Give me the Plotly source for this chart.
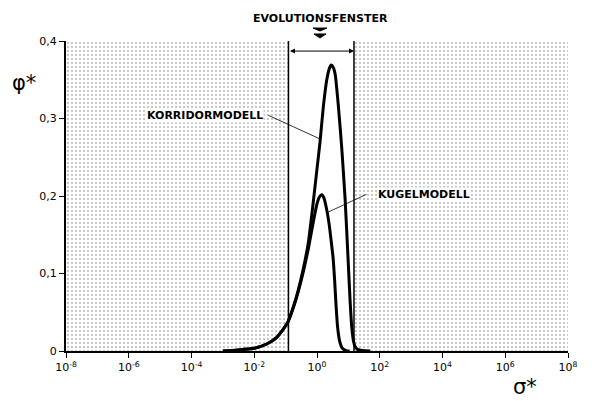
import math
import plotly.graph_objects as go

# ---- data ----
window = [0.123, 15.1]          # evolution window (sigma*)
x_range = [1e-8, 1e8]
y_max = 0.4

sigma_korr = [1e-3, 3e-3, 0.01, 0.025, 0.05, 0.08, 0.12, 0.18, 0.25, 0.37,
              0.53, 0.75, 1.0, 1.25, 1.6, 2.05, 2.5, 2.85, 3.3, 3.8, 4.8, 6.2,
              7.9, 9.8, 11.3, 12.8, 14.5, 16.3, 19, 24, 35, 50]
phi_korr = [0.0, 0.0013, 0.0035, 0.009, 0.017, 0.027, 0.038, 0.058,
            0.078, 0.107, 0.14, 0.19, 0.235, 0.27, 0.316, 0.35, 0.365, 0.369,
            0.366, 0.357, 0.316, 0.26, 0.195, 0.118, 0.066, 0.031, 0.013,
            0.006, 0.0025, 0.001, 0.0003, 0.0]

sigma_kugel = [1e-3, 3e-3, 0.01, 0.025, 0.05, 0.08, 0.12, 0.18, 0.25, 0.37,
               0.53, 0.75, 1.0, 1.2, 1.42, 1.68, 2.05, 2.43, 2.81, 3.26, 3.64,
               4.06, 4.53, 5.25, 6.3, 8.45, 11]
phi_kugel = [0.0, 0.0013, 0.0035, 0.009, 0.017, 0.027, 0.038, 0.057,
             0.076, 0.103, 0.132, 0.165, 0.19, 0.199, 0.2015, 0.197, 0.182,
             0.164, 0.143, 0.120, 0.092, 0.058, 0.031, 0.013, 0.004, 0.0006,
             0.0]

x_tickvals = [1e-8, 1e-6, 1e-4, 1e-2, 1e0, 1e2, 1e4, 1e6, 1e8]
x_ticktext = ["10<sup>-8</sup>", "10<sup>-6</sup>", "10<sup>-4</sup>", "10<sup>-2</sup>",
              "10<sup>0</sup>", "10<sup>2</sup>", "10<sup>4</sup>", "10<sup>6</sup>",
              "10<sup>8</sup>"]
y_tickvals = [0, 0.1, 0.2, 0.3, 0.4]
y_ticktext = ["0", "0,1", "0,2", "0,3", "0,4"]

FONT = "DejaVu Sans"
pattern = dict(shape=".", fgcolor="black", bgcolor="white", size=4, solidity=0.13)

fig = go.Figure()

# shaded regions outside the window
for xa, xb in [(x_range[0], window[0]), (window[1], x_range[1])]:
    fig.add_trace(go.Scatter(x=[xa, xb, xb, xa, xa], y=[0, 0, y_max, y_max, 0],
                             mode="lines", fill="toself", fillpattern=pattern,
                             fillcolor="white", line=dict(width=0),
                             hoverinfo="skip", showlegend=False))

# window boundary lines
for xw in window:
    fig.add_trace(go.Scatter(x=[xw, xw], y=[0, y_max], mode="lines",
                             line=dict(color="black", width=1.5),
                             hoverinfo="skip", showlegend=False))

# curves
curve_line = dict(color="black", width=3, shape="spline", smoothing=0.5)
fig.add_trace(go.Scatter(x=sigma_kugel, y=phi_kugel, mode="lines",
                         line=curve_line, showlegend=False))
fig.add_trace(go.Scatter(x=sigma_korr, y=phi_korr, mode="lines",
                         line=curve_line, showlegend=False))

L = math.log10
LABEL_FONT = dict(family=FONT, size=11, color="black", weight="bold")
annotations = [
    dict(text="EVOLUTIONSFENSTER", xref="paper", yref="paper", x=0.506, y=1.074,
         showarrow=False, font=LABEL_FONT, xanchor="center", yanchor="middle"),
    # window double arrow
    dict(text="", x=L(window[1]), y=0.387, ax=L(window[0]), ay=0.387,
         xref="x", yref="y", axref="x", ayref="y", showarrow=True,
         arrowhead=2, arrowside="end+start", arrowsize=1, arrowwidth=1,
         arrowcolor="black", standoff=0, startstandoff=0),
    # labels
    dict(text="KORRIDORMODELL", xref="paper", yref="paper", x=0.277, y=0.761,
         showarrow=False, font=LABEL_FONT,
         bgcolor="white", borderpad=0, xanchor="center", yanchor="middle"),
    dict(text="", x=L(1.19), y=0.274, ax=L(0.0252), ay=0.305,
         xref="x", yref="y", axref="x", ayref="y", showarrow=True, arrowhead=0,
         arrowwidth=0.8, arrowcolor="black", standoff=0, startstandoff=0),
    dict(text="KUGELMODELL", xref="paper", yref="paper", x=0.713, y=0.506,
         showarrow=False, font=LABEL_FONT,
         bgcolor="white", borderpad=0, xanchor="center", yanchor="middle"),
    dict(text="", x=L(1.95), y=0.178, ax=L(42), ay=0.203,
         xref="x", yref="y", axref="x", ayref="y", showarrow=True, arrowhead=0,
         arrowwidth=0.8, arrowcolor="black", standoff=0, startstandoff=0),
    # axis titles
    dict(text="φ*", xref="paper", yref="paper", x=-0.084, y=0.866, showarrow=False,
         font=dict(family=FONT, size=21, color="black"), xanchor="center", yanchor="middle"),
    dict(text="σ*", xref="paper", yref="paper", x=0.915, y=-0.117, showarrow=False,
         font=dict(family=FONT, size=21, color="black"), xanchor="center", yanchor="middle"),
]

shapes = [
    dict(type="path", xref="paper", yref="paper",
         path="M 0.4920,1.0419 L 0.5199,1.0419 L 0.5060,1.0323 Z",
         fillcolor="black", line=dict(color="black", width=1)),
    dict(type="path", xref="paper", yref="paper",
         path="M 0.4940,1.0226 L 0.5179,1.0226 L 0.5060,1.0097 Z",
         fillcolor="black", line=dict(color="black", width=1)),
]

TICK_FONT = dict(family=FONT, size=11, color="black")
fig.update_layout(
    width=592, height=401,
    margin=dict(l=66, r=24, t=41, b=50),
    paper_bgcolor="white", plot_bgcolor="white",
    annotations=annotations, shapes=shapes,
    font=dict(family=FONT, color="black"),
    xaxis=dict(type="log", range=[-8, 8], tickvals=x_tickvals, ticktext=x_ticktext,
               showgrid=False, zeroline=False, showline=True, linecolor="black",
               linewidth=2, ticks="outside", ticklen=5, tickwidth=1.2,
               tickcolor="black", tickfont=TICK_FONT),
    yaxis=dict(range=[0, 0.4], tickvals=y_tickvals, ticktext=y_ticktext,
               showgrid=False, zeroline=False, showline=True, linecolor="black",
               linewidth=2, ticks="outside", ticklen=5, tickwidth=1.2,
               tickcolor="black", tickfont=TICK_FONT),
)

fig.write_html("out.html")
